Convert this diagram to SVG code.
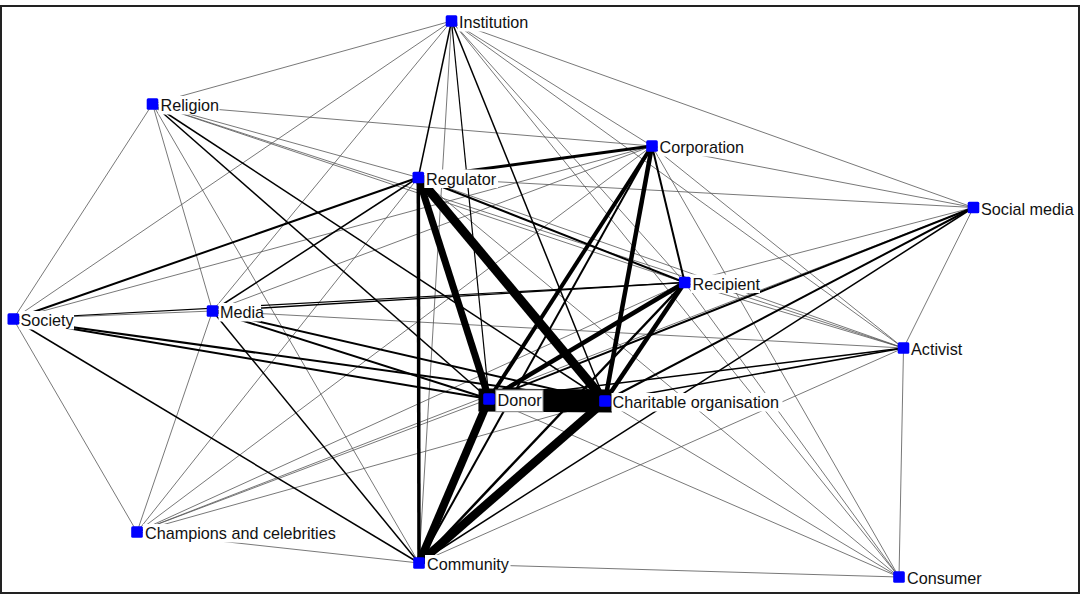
<svg xmlns="http://www.w3.org/2000/svg" width="1081" height="595" viewBox="0 0 1081 595">
<style>
.t{stroke:#555;stroke-width:0.8;fill:none}
.k{stroke:#000;fill:none}
.lb{fill:#fff;stroke:none}
.tx{font-family:"Liberation Sans",Arial,sans-serif;font-size:16.2px;fill:#111}
.nd{fill:#0000ff}
</style>
<rect x="0" y="0" width="1081" height="595" fill="#fff"/>
<rect x="1" y="6" width="1078" height="587" fill="none" stroke="#222" stroke-width="2"/>
<g id="connectors">
<g class="t">
<line x1="451.5" y1="21" x2="152.5" y2="104"/>
<line x1="451.5" y1="21" x2="13.3" y2="319"/>
<line x1="451.5" y1="21" x2="212.5" y2="311"/>
<line x1="451.5" y1="21" x2="419" y2="563"/>
<line x1="451.5" y1="21" x2="652" y2="146"/>
<line x1="451.5" y1="21" x2="684.7" y2="282.5"/>
<line x1="451.5" y1="21" x2="903.5" y2="348"/>
<line x1="451.5" y1="21" x2="899" y2="577"/>
<line x1="451.5" y1="21" x2="973.5" y2="207.5"/>
<line x1="152.5" y1="104" x2="13.3" y2="319"/>
<line x1="152.5" y1="104" x2="212.5" y2="311"/>
<line x1="152.5" y1="104" x2="419" y2="563"/>
<line x1="152.5" y1="104" x2="418.3" y2="177.5"/>
<line x1="152.5" y1="104" x2="684.7" y2="282.5"/>
<line x1="152.5" y1="104" x2="652" y2="146"/>
<line x1="152.5" y1="104" x2="903.5" y2="348"/>
<line x1="13.3" y1="319" x2="652" y2="146"/>
<line x1="13.3" y1="319" x2="212.5" y2="311"/>
<line x1="13.3" y1="319" x2="137" y2="532"/>
<line x1="212.5" y1="311" x2="652" y2="146"/>
<line x1="212.5" y1="311" x2="903.5" y2="348"/>
<line x1="212.5" y1="311" x2="137" y2="532"/>
<line x1="137" y1="532" x2="418.3" y2="177.5"/>
<line x1="137" y1="532" x2="652" y2="146"/>
<line x1="137" y1="532" x2="684.7" y2="282.5"/>
<line x1="137" y1="532" x2="973.5" y2="207.5"/>
<line x1="137" y1="532" x2="489" y2="399"/>
<line x1="137" y1="532" x2="605" y2="401"/>
<line x1="137" y1="532" x2="419" y2="563"/>
<line x1="418.3" y1="177.5" x2="973.5" y2="207.5"/>
<line x1="418.3" y1="177.5" x2="903.5" y2="348"/>
<line x1="418.3" y1="177.5" x2="899" y2="577"/>
<line x1="652" y1="146" x2="973.5" y2="207.5"/>
<line x1="652" y1="146" x2="903.5" y2="348"/>
<line x1="652" y1="146" x2="899" y2="577"/>
<line x1="973.5" y1="207.5" x2="684.7" y2="282.5"/>
<line x1="973.5" y1="207.5" x2="903.5" y2="348"/>
<line x1="903.5" y1="348" x2="684.7" y2="282.5"/>
<line x1="903.5" y1="348" x2="419" y2="563"/>
<line x1="903.5" y1="348" x2="899" y2="577"/>
<line x1="684.7" y1="282.5" x2="899" y2="577"/>
<line x1="489" y1="399" x2="899" y2="577"/>
<line x1="605" y1="401" x2="899" y2="577"/>
<line x1="419" y1="563" x2="899" y2="577"/>
</g>
<g class="k">
<line x1="451.5" y1="21" x2="418.3" y2="177.5" stroke-width="1.5"/>
<line x1="451.5" y1="21" x2="489" y2="399" stroke-width="1.2"/>
<line x1="451.5" y1="21" x2="605" y2="401" stroke-width="1.5"/>
<line x1="152.5" y1="104" x2="489" y2="399" stroke-width="1.5"/>
<line x1="152.5" y1="104" x2="605" y2="401" stroke-width="1.5"/>
<line x1="13.3" y1="319" x2="418.3" y2="177.5" stroke-width="2"/>
<line x1="13.3" y1="319" x2="684.7" y2="282.5" stroke-width="1.2"/>
<line x1="13.3" y1="319" x2="489" y2="399" stroke-width="2"/>
<line x1="13.3" y1="319" x2="605" y2="401" stroke-width="2"/>
<line x1="13.3" y1="319" x2="419" y2="563" stroke-width="1.5"/>
<line x1="212.5" y1="311" x2="418.3" y2="177.5" stroke-width="1.5"/>
<line x1="212.5" y1="311" x2="684.7" y2="282.5" stroke-width="1.3"/>
<line x1="212.5" y1="311" x2="489" y2="399" stroke-width="2"/>
<line x1="212.5" y1="311" x2="605" y2="401" stroke-width="2"/>
<line x1="212.5" y1="311" x2="419" y2="563" stroke-width="1.5"/>
<line x1="418.3" y1="177.5" x2="652" y2="146" stroke-width="3"/>
<line x1="418.3" y1="177.5" x2="684.7" y2="282.5" stroke-width="2"/>
<line x1="652" y1="146" x2="684.7" y2="282.5" stroke-width="2"/>
<line x1="652" y1="146" x2="419" y2="563" stroke-width="2"/>
<line x1="973.5" y1="207.5" x2="489" y2="399" stroke-width="2"/>
<line x1="973.5" y1="207.5" x2="605" y2="401" stroke-width="2"/>
<line x1="973.5" y1="207.5" x2="419" y2="563" stroke-width="1.5"/>
<line x1="903.5" y1="348" x2="489" y2="399" stroke-width="1.5"/>
<line x1="903.5" y1="348" x2="605" y2="401" stroke-width="1.5"/>
<line x1="684.7" y1="282.5" x2="419" y2="563" stroke-width="2.5"/>
<line x1="418.3" y1="177.5" x2="489" y2="399" stroke-width="7"/>
<line x1="418.3" y1="177.5" x2="605" y2="401" stroke-width="9"/>
<line x1="418.3" y1="177.5" x2="419" y2="563" stroke-width="3.5"/>
<line x1="652" y1="146" x2="489" y2="399" stroke-width="4"/>
<line x1="652" y1="146" x2="605" y2="401" stroke-width="4.5"/>
<line x1="684.7" y1="282.5" x2="489" y2="399" stroke-width="4.5"/>
<line x1="684.7" y1="282.5" x2="605" y2="401" stroke-width="4.5"/>
<line x1="489" y1="399" x2="419" y2="563" stroke-width="8"/>
<line x1="605" y1="401" x2="419" y2="563" stroke-width="8.5"/>
<line x1="490" y1="400" x2="600.5" y2="401" stroke-width="23" stroke-linecap="square"/>
</g>
</g>
<g id="institution"><rect class="lb" x="457.5" y="13" width="76.5" height="18.5"/><rect class="nd" x="445.7" y="15.2" width="11.6" height="11.6" rx="1.5"/><text class="tx" x="459" y="28">Institution</text></g>
<g id="religion"><rect class="lb" x="158.5" y="96" width="61" height="18.5"/><rect class="nd" x="146.7" y="98.2" width="11.6" height="11.6" rx="1.5"/><text class="tx" x="160.5" y="111">Religion</text></g>
<g id="corporation"><rect class="lb" x="658" y="138" width="89" height="18.5"/><rect class="nd" x="646.2" y="140.2" width="11.6" height="11.6" rx="1.5"/><text class="tx" x="659.5" y="153">Corporation</text></g>
<g id="regulator"><rect class="lb" x="424.3" y="169.5" width="73.7" height="18.5"/><rect class="nd" x="412.5" y="171.7" width="11.6" height="11.6" rx="1.5"/><text class="tx" x="426" y="184.5">Regulator</text></g>
<g id="social-media"><rect class="lb" x="979.5" y="199.5" width="93.5" height="18.5"/><rect class="nd" x="967.7" y="201.7" width="11.6" height="11.6" rx="1.5"/><text class="tx" x="981" y="214.5">Social media</text></g>
<g id="recipient"><rect class="lb" x="690.7" y="274.5" width="69.3" height="18.5"/><rect class="nd" x="678.9" y="276.7" width="11.6" height="11.6" rx="1.5"/><text class="tx" x="692.5" y="289.5">Recipient</text></g>
<g id="society"><rect class="lb" x="19.3" y="311" width="54.7" height="18.5"/><rect class="nd" x="7.5" y="313.2" width="11.6" height="11.6" rx="1.5"/><text class="tx" x="20.5" y="326">Society</text></g>
<g id="media"><rect class="lb" x="218.5" y="303" width="42.5" height="18.5"/><rect class="nd" x="206.7" y="305.2" width="11.6" height="11.6" rx="1.5"/><text class="tx" x="220" y="318">Media</text></g>
<g id="activist"><rect class="lb" x="909.5" y="340" width="54" height="18.5"/><rect class="nd" x="897.7" y="342.2" width="11.6" height="11.6" rx="1.5"/><text class="tx" x="911" y="355">Activist</text></g>
<g id="donor"><rect x="495.7" y="390" width="47.3" height="21.7" fill="#fff" stroke="#888" stroke-width="1"/><rect class="nd" x="483.2" y="393.2" width="11.6" height="11.6" rx="1.5"/><text class="tx" x="497.5" y="406">Donor</text></g>
<g id="charitable-organisation"><rect class="lb" x="611.5" y="393" width="171" height="18.5"/><rect class="nd" x="599.2" y="395.2" width="11.6" height="11.6" rx="1.5"/><text class="tx" x="612.5" y="408">Charitable organisation</text></g>
<g id="champions"><rect class="lb" x="143" y="524" width="194" height="18.5"/><rect class="nd" x="131.2" y="526.2" width="11.6" height="11.6" rx="1.5"/><text class="tx" x="145" y="539">Champions and celebrities</text></g>
<g id="community"><rect class="lb" x="425" y="555" width="85.5" height="18.5"/><rect class="nd" x="413.2" y="557.2" width="11.6" height="11.6" rx="1.5"/><text class="tx" x="427" y="570">Community</text></g>
<g id="consumer"><rect class="lb" x="905" y="569" width="78" height="18.5"/><rect class="nd" x="893.2" y="571.2" width="11.6" height="11.6" rx="1.5"/><text class="tx" x="907" y="584">Consumer</text></g>
</svg>
